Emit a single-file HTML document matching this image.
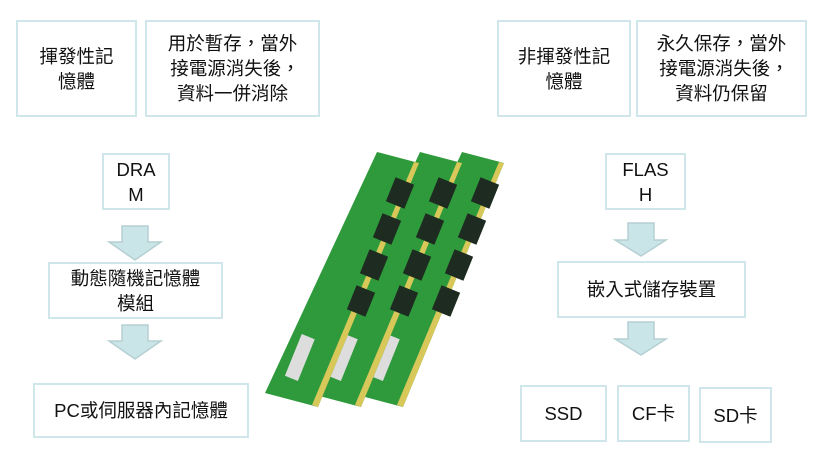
<!DOCTYPE html>
<html><head><meta charset="utf-8"><style>
body{margin:0;width:825px;height:467px;background:#fff;position:relative;overflow:hidden;font-family:"Liberation Sans","Noto Sans CJK TC",sans-serif;}
.b{position:absolute;box-sizing:border-box;border:2px solid #cfe6ea;display:flex;align-items:center;justify-content:center;text-align:center;font-size:18.5px;line-height:25px;color:#111;}
svg{position:absolute;left:0;top:0}
</style></head><body>
<div class="b" style="left:16px;top:20px;width:121px;height:97px">揮發性記<br>憶體</div>
<div class="b" style="left:145px;top:20px;width:175px;height:97px">用於暫存，當外<br>&nbsp;接電源消失後，<br>資料一併消除</div>
<div class="b" style="left:102px;top:153px;width:68px;height:57px">DRA<br>M</div>
<div class="b" style="left:48px;top:262px;width:175px;height:57px">動態隨機記憶體<br>模組</div>
<div class="b" style="left:33px;top:383px;width:216px;height:55px">PC或伺服器內記憶體</div>
<div class="b" style="left:497px;top:20px;width:134px;height:97px">非揮發性記<br>憶體</div>
<div class="b" style="left:636px;top:20px;width:171px;height:97px">永久保存，當外<br>&nbsp;接電源消失後，<br>資料仍保留</div>
<div class="b" style="left:605px;top:153px;width:81px;height:57px">FLAS<br>H</div>
<div class="b" style="left:557px;top:261px;width:189px;height:57px">嵌入式儲存裝置</div>
<div class="b" style="left:520px;top:385px;width:87px;height:57px">SSD</div>
<div class="b" style="left:617px;top:385px;width:73px;height:57px">CF卡</div>
<div class="b" style="left:699px;top:387px;width:73px;height:56px">SD卡</div>
<svg width="825" height="467">
<g fill="#c9e5e8" stroke="#b5cfd3" stroke-width="1.5">
<path d="M122 226h26v16h13l-26 18l-26-18h13z"/>
<path d="M122 325h26v16h13l-26 18l-26-18h13z"/>
<path d="M628 223h26v17h12l-25 16l-26-16h13z"/>
<path d="M628 322h26v17h12l-25 16l-26-16h13z"/>
</g>
<g id="s">
<polygon points="462,152 504,163 403,407 350,393" fill="#2f9a3c"/>
<polygon points="499,162 504,163 403,407 397,405" fill="#d8c85a"/>
<g fill="#1d2b20"><rect x="475" y="180" width="20" height="26" transform="rotate(22 485 193)"/><rect x="462" y="216" width="20" height="26" transform="rotate(22 472 229)"/><rect x="449" y="252" width="20" height="26" transform="rotate(22 459 265)"/><rect x="436" y="288" width="20" height="26" transform="rotate(22 446 301)"/></g>
<rect x="378" y="335" width="14" height="45" fill="#ddd" transform="rotate(22 385 357)"/>
</g>
<use href="#s" transform="translate(-42,0)"/>
<use href="#s" transform="translate(-85,0)"/>
</svg>
</body></html>
